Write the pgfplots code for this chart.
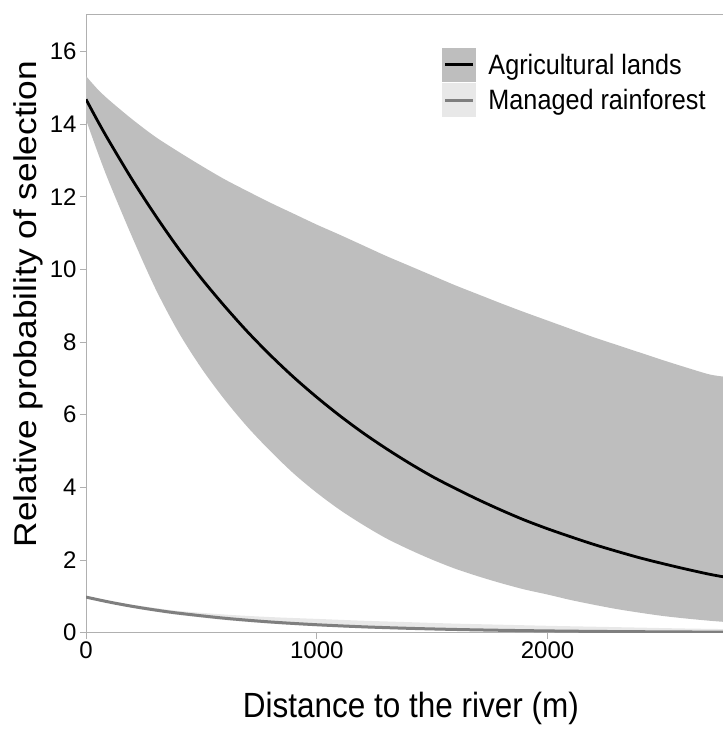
\documentclass[border=0pt]{standalone}
\usepackage{pgfplots}
\pgfplotsset{compat=1.18}
\usepackage{pgfplotstable}
\usepgfplotslibrary{fillbetween}
\usepackage{fontspec}
\setmainfont{Liberation Sans}
\newfontfamily\xlabfont{Liberation Sans}[FakeStretch=0.9]
\newfontfamily\ylabfont{Liberation Sans}[FakeStretch=1.12]
\newfontfamily\legfont{Liberation Sans}[FakeStretch=0.9]
\definecolor{agrifill}{HTML}{BEBEBE}
\definecolor{manfill}{HTML}{E8E8E8}
\definecolor{manline}{HTML}{7F7F7F}
\definecolor{axgrey}{HTML}{B0B0B0}

\pgfplotstableread{
x mean lower upper
0 14.68 14.12 15.32
50 14.09 13.23 14.96
100 13.53 12.40 14.66
200 12.47 10.89 14.13
300 11.49 9.48 13.65
400 10.58 8.28 13.24
500 9.75 7.28 12.85
600 8.99 6.42 12.48
700 8.28 5.66 12.15
800 7.63 4.99 11.83
900 7.03 4.38 11.53
1000 6.48 3.85 11.23
1100 5.97 3.38 10.95
1200 5.50 2.97 10.66
1300 5.07 2.60 10.37
1400 4.67 2.29 10.10
1500 4.30 2.01 9.83
1600 3.97 1.76 9.56
1700 3.66 1.55 9.31
1800 3.37 1.36 9.06
1900 3.10 1.19 8.82
2000 2.86 1.05 8.59
2100 2.64 0.90 8.36
2200 2.43 0.77 8.13
2300 2.24 0.65 7.92
2400 2.06 0.55 7.71
2500 1.90 0.46 7.50
2600 1.75 0.39 7.30
2700 1.61 0.33 7.11
2760 1.54 0.30 7.05
}\agri

\pgfplotstableread{
x mean lower upper
0 0.98 0.96 1.00
100 0.844 0.82 0.88
200 0.726 0.69 0.77
300 0.625 0.58 0.68
400 0.538 0.49 0.60
600 0.399 0.35 0.50
800 0.295 0.25 0.43
1000 0.219 0.18 0.38
1200 0.162 0.125 0.33
1400 0.120 0.09 0.29
1600 0.089 0.063 0.25
1800 0.066 0.045 0.22
2000 0.049 0.032 0.19
2200 0.036 0.023 0.165
2400 0.027 0.016 0.14
2600 0.020 0.011 0.115
2760 0.016 0.008 0.10
}\managed

\begin{document}
\begin{tikzpicture}
\begin{axis}[
  at={(0pt,0pt)}, anchor=south west,
  scale only axis, width=637pt, height=617.7pt,
  xmin=0, xmax=2760, ymin=0, ymax=17,
  axis lines*=left,
  axis line style={draw=axgrey, line width=1pt, -},
  xtick={0,1000,2000}, ytick={0,2,...,16},
  tick align=outside, major tick length=6pt,
  tick style={draw=axgrey, line width=1pt},
  tick label style={font=\fontsize{24}{24}\selectfont},
  /pgf/number format/assume math mode=true,
  /pgf/number format/set thousands separator={},
  xlabel={Distance to the river (m)},
  ylabel={Relative probability of selection},
  xlabel style={font=\fontsize{35}{35}\xlabfont, at={(axis description cs:0.51,-0.138)}, anchor=base},
  ylabel style={font=\fontsize{31.5}{31.5}\ylabfont, at={(axis description cs:-0.077,0.532)}, anchor=base},
  legend style={at={(axis description cs:0.559,0.9466)}, anchor=north west,
    draw=none, fill=none, inner sep=0pt, outer sep=0pt, row sep=2pt,
    font=\fontsize{28}{28}\legfont, nodes={inner sep=0pt},
    /tikz/every odd column/.append style={column sep=13pt}},
  legend cell align=left,
]
\addlegendimage{legend image code/.code={\fill[agrifill] (0pt,-16.5pt) rectangle (33pt,16.5pt); \draw[black, line width=3pt] (3pt,0pt) -- (31pt,0pt);}}
\addlegendentry{Agricultural lands}
\addlegendimage{legend image code/.code={\fill[manfill] (0pt,-16.5pt) rectangle (33pt,16.5pt); \draw[manline, line width=3pt] (3pt,0pt) -- (31pt,0pt);}}
\addlegendentry{Managed rainforest}

\addplot[name path=au, draw=none, smooth, forget plot] table[x=x, y=upper] {\agri};
\addplot[name path=al, draw=none, smooth, forget plot] table[x=x, y=lower] {\agri};
\addplot[agrifill, forget plot] fill between[of=au and al];
\addplot[name path=mu, draw=none, smooth, forget plot] table[x=x, y=upper] {\managed};
\addplot[name path=ml, draw=none, smooth, forget plot] table[x=x, y=lower] {\managed};
\addplot[manfill, forget plot] fill between[of=mu and ml];
\addplot[manline, line width=3pt, smooth, forget plot] table[x=x, y=mean] {\managed};
\addplot[black, line width=2.8pt, smooth, forget plot] table[x=x, y=mean] {\agri};
\coordinate (tl) at (rel axis cs:0,1);
\coordinate (tr) at (rel axis cs:1,1);
\end{axis}
\draw[axgrey, line width=1pt] (tl) -- (tr);
\pgfresetboundingbox
\path[use as bounding box] (-86pt,-101.3pt) rectangle (637pt,632.7pt);
\end{tikzpicture}
\end{document}
